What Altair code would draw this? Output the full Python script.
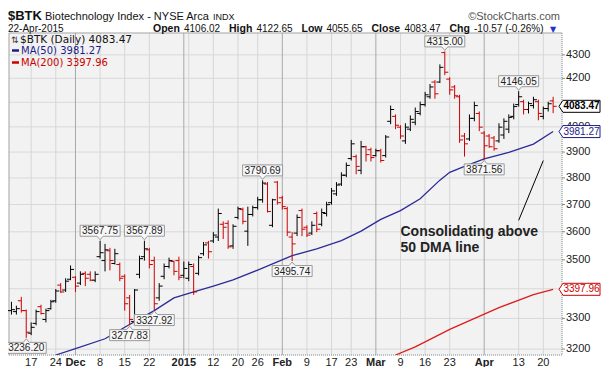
import altair as alt
import pandas as pd

# ---------------- data ----------------
holidays = ["2014-11-27", "2014-12-25", "2015-01-01", "2015-01-19", "2015-02-16", "2015-04-03"]
dates = [d.strftime("%Y-%m-%d") for d in pd.bdate_range("2014-11-11", "2015-04-22")
         if d.strftime("%Y-%m-%d") not in holidays]

opens = [3326.0, 3322.7, 3359.0, 3326.0, 3251.5, 3283.7, 3339.1, 3296.6, 3332.5, 3359.0,
         3412.3, 3395.5, 3432.5, 3439.3, 3419.1, 3452.9, 3449.5, 3429.2, 3511.2, 3497.4,
         3532.1, 3487.1, 3483.7, 3442.7, 3368.9, 3290.1, 3449.5, 3511.2, 3535.5, 3497.4,
         3368.9, 3442.7, 3476.7, 3494.0, 3497.4, 3446.1, 3435.9, 3476.7, 3452.9, 3521.7,
         3560.0, 3567.0, 3581.1, 3627.3, 3630.8, 3549.5, 3652.3, 3681.2, 3602.3, 3663.2,
         3688.5, 3717.7, 3776.8, 3623.6, 3784.3, 3725.0, 3684.8, 3581.1, 3595.3, 3677.6,
         3616.5, 3595.3, 3666.8, 3627.3, 3666.8, 3706.8, 3739.8, 3776.8, 3810.5, 3874.7,
         3882.4, 3829.2, 3920.9, 3909.3, 3886.3, 3905.4, 3886.3, 4022.5, 4042.5, 3998.9,
         3944.1, 3990.9, 4018.6, 4054.4, 4090.5, 4122.8, 4184.2, 4184.2, 4309.8, 4196.6,
         4163.7, 4122.8, 3963.5, 3951.9, 4034.4, 4054.4, 3975.3, 3963.5, 3955.8, 3944.1,
         3967.5, 3990.9, 4042.5, 4090.5, 4102.6, 4070.4, 4086.5, 4102.6, 4042.5, 4074.4,
         4106.02]
highs = [3355.7, 3342.4, 3372.2, 3329.3, 3286.9, 3329.3, 3345.7, 3332.5, 3362.3, 3398.9,
         3419.1, 3435.9, 3480.2, 3442.7, 3459.7, 3459.7, 3459.7, 3459.7, 3567.75, 3556.5,
         3542.5, 3539.0, 3490.5, 3449.5, 3378.9, 3398.9, 3514.7, 3567.89, 3542.5, 3511.2,
         3419.1, 3487.1, 3507.7, 3497.4, 3511.2, 3494.0, 3494.0, 3487.1, 3514.7, 3563.5,
         3567.0, 3598.8, 3684.8, 3638.0, 3641.5, 3627.3, 3692.1, 3688.5, 3692.1, 3695.8,
         3728.7, 3790.69, 3784.3, 3721.3, 3788.0, 3732.4, 3692.1, 3598.8, 3663.2, 3684.8,
         3623.6, 3638.0, 3674.0, 3684.8, 3710.4, 3761.9, 3784.3, 3821.7, 3859.5, 3948.0,
         3890.1, 3944.1, 3924.8, 3917.0, 3913.1, 3913.1, 3967.3, 4086.5, 4050.4, 4006.7,
         4014.6, 4046.4, 4078.5, 4102.6, 4143.2, 4176.0, 4192.4, 4259.1, 4315.00, 4204.9,
         4171.9, 4131.0, 3975.3, 4050.4, 4102.6, 4062.4, 3983.1, 3971.4, 3963.5, 4014.6,
         4034.4, 4050.4, 4094.6, 4146.05, 4110.6, 4102.6, 4122.8, 4110.6, 4082.5, 4102.6,
         4122.65]
lows = [3312.9, 3312.9, 3319.5, 3236.20, 3245.1, 3277.2, 3312.9, 3286.9, 3329.3, 3352.4,
        3385.6, 3388.9, 3429.2, 3388.9, 3412.3, 3409.0, 3425.8, 3422.4, 3504.3, 3459.7,
        3463.1, 3483.7, 3425.8, 3326.0, 3277.83, 3280.4, 3435.9, 3497.4, 3469.9, 3327.92,
        3359.0, 3432.5, 3469.9, 3446.1, 3429.2, 3435.9, 3425.8, 3378.9, 3446.1, 3514.7,
        3504.3, 3560.0, 3567.0, 3574.0, 3539.0, 3539.0, 3645.1, 3627.3, 3549.5, 3655.9,
        3681.2, 3706.8, 3670.4, 3616.5, 3699.5, 3681.2, 3584.5, 3495.74, 3584.5, 3584.5,
        3581.1, 3588.2, 3598.8, 3620.0, 3655.9, 3699.5, 3732.4, 3769.4, 3803.0, 3867.1,
        3814.2, 3814.2, 3863.3, 3863.3, 3882.4, 3859.5, 3878.6, 4010.7, 3991.0, 3951.9,
        3932.5, 3983.1, 4006.7, 4046.4, 4082.5, 4114.7, 4114.7, 4180.1, 4213.3, 4131.0,
        4114.7, 3936.4, 3882.4, 3944.1, 4022.5, 3983.1, 3871.56, 3917.0, 3905.4, 3936.4,
        3951.9, 3975.3, 4030.5, 4082.5, 4050.4, 4054.4, 4074.4, 4026.5, 4030.5, 4062.4,
        4055.65]
closes = [3329.3, 3332.5, 3326.0, 3254.7, 3270.7, 3322.7, 3316.2, 3326.0, 3355.7, 3392.2,
          3388.9, 3425.8, 3466.5, 3408.9, 3449.5, 3435.9, 3429.2, 3449.5, 3525.1, 3535.5,
          3497.4, 3521.7, 3435.9, 3349.0, 3296.6, 3395.5, 3504.3, 3539.0, 3483.7, 3349.0,
          3409.0, 3476.7, 3497.4, 3459.7, 3439.3, 3469.9, 3483.7, 3388.9, 3507.7, 3553.0,
          3528.6, 3588.2, 3666.8, 3616.5, 3546.0, 3620.0, 3684.8, 3638.0, 3663.2, 3688.5,
          3717.7, 3780.5, 3674.0, 3717.7, 3706.8, 3692.1, 3598.8, 3556.5, 3652.3, 3609.4,
          3588.2, 3623.6, 3609.4, 3670.4, 3699.5, 3750.8, 3773.1, 3810.5, 3848.2, 3932.5,
          3844.4, 3920.9, 3890.1, 3878.6, 3905.4, 3867.1, 3959.6, 4070.4, 4006.7, 3963.5,
          3998.9, 4030.5, 4062.4, 4090.5, 4131.0, 4163.7, 4135.1, 4246.5, 4225.7, 4151.4,
          4127.0, 3948.0, 3932.5, 4034.4, 4086.5, 3998.9, 3924.8, 3920.9, 3913.1, 3998.9,
          4022.5, 4038.4, 4082.5, 4122.8, 4070.4, 4094.6, 4110.6, 4054.4, 4074.4, 4094.04,
          4083.47]

ma50_dates = ["2014-11-24", "2014-12-01", "2014-12-09", "2014-12-15", "2014-12-23", "2014-12-30",
              "2015-01-06", "2015-01-12", "2015-01-16", "2015-01-26", "2015-02-04", "2015-02-11",
              "2015-02-19", "2015-02-25", "2015-03-03", "2015-03-09", "2015-03-13", "2015-03-19",
              "2015-03-23", "2015-03-26", "2015-04-01", "2015-04-09", "2015-04-16", "2015-04-22"]
ma50_values = [3181.0, 3201.6, 3233.3, 3270.7, 3326.0, 3368.9, 3388.9, 3408.9, 3430.2, 3464.1,
               3514.7, 3539.0, 3568.1, 3602.3, 3645.1, 3677.6, 3721.4, 3791.7, 3821.7, 3844.4,
               3873.5, 3898.9, 3931.3, 3981.27]
ma200_dates = ["2015-03-06", "2015-03-12", "2015-03-23", "2015-04-07", "2015-04-16", "2015-04-22"]
ma200_values = [3181.0, 3207.0, 3264.0, 3336.0, 3380.0, 3397.96]

tick_dates = ["2014-11-17", "2014-11-24", "2014-12-01", "2014-12-08", "2014-12-15", "2014-12-22",
              "2015-01-02", "2015-01-12", "2015-01-20", "2015-01-26", "2015-02-02", "2015-02-09",
              "2015-02-17", "2015-02-23", "2015-03-02", "2015-03-09", "2015-03-16", "2015-03-23",
              "2015-04-01", "2015-04-13", "2015-04-20"]
tick_labels = ["17", "24", "Dec", "8", "15", "22", "2015", "12", "20", "26", "Feb", "9", "17",
               "23", "Mar", "9", "16", "23", "Apr", "13", "20"]
month_starts = ["2014-12-01", "2015-01-02", "2015-02-02", "2015-03-02", "2015-04-01"]
extra_grid = ["2015-01-05"]
price_ticks = [3200, 3300, 3400, 3500, 3600, 3700, 3800, 3900, 4000, 4100, 4200, 4300]
# 3400 and 4100 are hidden behind the last-value markers in the reference
price_labels = [3200, 3300, 3500, 3600, 3700, 3800, 3900, 4000, 4200, 4300]

peak_dates = ["2014-12-08", "2014-12-19", "2015-01-27", "2015-03-20", "2015-04-13"]
trough_dates = ["2014-11-14", "2014-12-16", "2014-12-23", "2015-02-04", "2015-04-01"]

note_lines = ["Consolidating above", "50 DMA line"]
note_dates = ["2015-03-09", "2015-03-09"]
note_values = [3598.8, 3540.7]
arrow_from = ("2015-04-13", 3641.5)
arrow_to = ("2015-04-20", 3867.0)

last_markers = [("4083.47", 4083.47, "#000000", "bold"),
                ("3981.27", 3981.27, "#1c1c8a", "normal"),
                ("3397.96", 3397.96, "#cc0000", "normal")]

# ---------------- tables ----------------
pos = {d: i for i, d in enumerate(dates)}
df = pd.DataFrame({"date": dates, "open": opens, "high": highs, "low": lows, "close": closes})
df["r"] = range(len(df))
prev = df["close"].shift(1)
df["dir"] = ["up" if (pd.isna(p) or c >= p) else "down" for c, p in zip(df["close"], prev)]

ma50 = pd.DataFrame({"r": [pos[d] for d in ma50_dates], "v": ma50_values})
ma200 = pd.DataFrame({"r": [pos[d] for d in ma200_dates], "v": ma200_values})
ticks = pd.DataFrame({"r": [pos[d] for d in tick_dates], "label": tick_labels,
                      "bold": [d in month_starts for d in tick_dates]})
grid = pd.DataFrame({"r": [pos[d] for d in tick_dates + extra_grid],
                     "dark": [d in month_starts for d in tick_dates + extra_grid]})
ptab = pd.DataFrame({"v": price_ticks})
ltab = pd.DataFrame({"v": price_labels, "t": [str(p) for p in price_labels]})
peaks = df[df["date"].isin(peak_dates)].copy()
peaks["t"] = peaks["high"].map(lambda v: f"{v:.2f}")
troughs = df[df["date"].isin(trough_dates)].copy()
troughs["t"] = troughs["low"].map(lambda v: f"{v:.2f}")
notes = pd.DataFrame({"r": [pos[d] for d in note_dates], "v": note_values, "t": note_lines})
arrow = pd.DataFrame({"r": [pos[arrow_from[0]]], "v": [arrow_from[1]],
                      "r2": [pos[arrow_to[0]]], "v2": [arrow_to[1]]})

# ---------------- chart ----------------
W, H = 553, 322
xs = alt.Scale(domain=[-0.5, 111.8], nice=False, zero=False)
ys = alt.Scale(type="log", domain=[3181, 4395.5], nice=False, zero=False)
X = alt.X("r:Q", scale=xs, axis=None)
dir_color = alt.Color("dir:N", scale=alt.Scale(domain=["up", "down"], range=["#000000", "#cc0000"]),
                      legend=None)
one = pd.DataFrame({"k": [0]})


def Y(field):
    return alt.Y(f"{field}:Q", scale=ys, axis=None)


def border(col, dash_, **enc):
    kw = dict(color=col, strokeWidth=1)
    if dash_:
        kw["strokeDash"] = dash_
    return alt.Chart(one).mark_rule(**kw).encode(**enc)


layers = []

# grid
layers.append(alt.Chart(ptab).mark_rule(color="#d9d9d9", strokeWidth=1).encode(y=Y("v")))
layers.append(alt.Chart(grid[~grid["dark"]]).mark_rule(color="#d6d6d6", strokeWidth=1).encode(x=X))
layers.append(alt.Chart(grid[grid["dark"]]).mark_rule(color="#a8a8a8", strokeWidth=1).encode(x=X))

# frame: solid left/top, dotted right/bottom
layers += [
    border("#a0a0a0", None, x=alt.value(0), y=alt.value(0), y2=alt.value(H)),
    border("#a0a0a0", None, x=alt.value(0), x2=alt.value(W), y=alt.value(0)),
    border("#7f8f8f", [1, 1], x=alt.value(W), y=alt.value(0), y2=alt.value(H)),
    border("#7f8f8f", [1, 1], x=alt.value(0), x2=alt.value(W), y=alt.value(H)),
]

# right price axis (ticks + labels)
layers.append(alt.Chart(ptab).mark_rule(color="#888888", strokeWidth=1).encode(
    x=alt.value(W), x2=alt.value(W + 3), y=Y("v")))
layers.append(alt.Chart(ltab).mark_text(font="Liberation Sans", fontSize=11, color="#222222",
                                        align="left", baseline="middle").encode(
    x=alt.value(W + 4), y=Y("v"), text="t:N"))

# moving averages
layers.append(alt.Chart(ma200).mark_line(color="#dd1c1c", strokeWidth=1.3, clip=True).encode(
    x=X, y=Y("v")))
layers.append(alt.Chart(ma50).mark_line(color="#2b2b98", strokeWidth=1.3, clip=True).encode(
    x=X, y=Y("v")))

# OHLC bars
layers.append(alt.Chart(df).mark_rule(strokeWidth=1).encode(
    x=X, y=Y("low"), y2="high:Q", color=dir_color))
layers.append(alt.Chart(df).mark_tick(orient="horizontal", size=3.5, thickness=1, xOffset=-1.75,
                                      opacity=1).encode(x=X, y=Y("open"), color=dir_color))
layers.append(alt.Chart(df).mark_tick(orient="horizontal", size=3.5, thickness=1, xOffset=1.75,
                                      opacity=1).encode(x=X, y=Y("close"), color=dir_color))

# peak / trough call-outs
path_up = "M-1,-0.275H1V0.275H0.15L0,0.45L-0.15,0.275H-1Z"
path_dn = "M-1,0.275H1V-0.275H0.15L0,-0.45L-0.15,-0.275H-1Z"
for tab, field, path, off in [(peaks, "high", path_up, -10), (troughs, "low", path_dn, 10)]:
    layers.append(alt.Chart(tab).mark_point(shape=path, size=1600, filled=True, fill="#f7f7f7",
                                            stroke="#9a9a9a", strokeWidth=1, opacity=1,
                                            yOffset=off).encode(x=X, y=Y(field)))
    layers.append(alt.Chart(tab).mark_text(font="Liberation Sans", fontSize=10, color="#222222",
                                           baseline="middle", align="center",
                                           yOffset=off + 0.5).encode(
        x=X, y=Y(field), text="t:N"))

# annotation
layers.append(alt.Chart(notes).mark_text(font="Liberation Sans", fontSize=14, fontWeight="bold",
                                         color="#222222", align="left", baseline="middle").encode(
    x=X, y=Y("v"), text="t:N"))
layers.append(alt.Chart(arrow).mark_rule(color="#000000", strokeWidth=1).encode(
    x=X, y=Y("v"), x2="r2:Q", y2="v2:Q"))

# x labels
for bold in [False, True]:
    layers.append(alt.Chart(ticks[ticks["bold"] == bold]).mark_text(
        font="Liberation Sans", fontSize=11, fontWeight="bold" if bold else "normal",
        color="#222222", align="center", baseline="alphabetic").encode(
        x=X, y=alt.value(H + 10.5), text="label:N"))

# last-value markers on the right
path_px = "M-0.805,-0.293H1V0.293H-0.805L-1,0Z"
for label, val, col, wt in last_markers:
    t = pd.DataFrame({"v": [val], "t": [label]})
    layers.append(alt.Chart(t).mark_point(shape=path_px, size=1681, filled=True, fill="#ffffff",
                                          stroke=col, strokeWidth=1, opacity=1).encode(
        x=alt.value(570.5), y=Y("v")))
    layers.append(alt.Chart(t).mark_text(font="Liberation Sans", fontSize=10, fontWeight=wt,
                                         color=col, align="center", baseline="middle").encode(
        x=alt.value(572.5), y=Y("v"), text="t:N"))


def txt(text, x, y, size=11, weight="normal", color="#222222", font="Liberation Sans",
        align="left", baseline="alphabetic"):
    return alt.Chart(one).mark_text(fontSize=size, fontWeight=weight, color=color, font=font,
                                    align=align, baseline=baseline).encode(
        x=alt.value(x), y=alt.value(y), text=alt.value(text))


def dash(y, col):
    return alt.Chart(one).mark_rule(color=col, strokeWidth=2.5).encode(
        x=alt.value(3), x2=alt.value(10), y=alt.value(y))


# header
layers += [
    txt("$BTK", -1, -13, size=13, weight="bold", color="#111111"),
    txt("Biotechnology Index - NYSE Arca", 36, -13, size=11, color="#111111"),
    txt("INDX", 204, -13, size=9, color="#111111"),
    txt("\u00a9StockCharts.com", 551, -13, size=11, color="#555555", align="right"),
    txt("22-Apr-2015", -1, -1, size=10, color="#111111"),
    txt("Open", 144, -1, size=10.5, weight="bold", color="#111111"),
    txt("4106.02", 175, -1, size=10, color="#111111"),
    txt("High", 220, -1, size=10.5, weight="bold", color="#111111"),
    txt("4122.65", 247.5, -1, size=10, color="#111111"),
    txt("Low", 292.5, -1, size=10.5, weight="bold", color="#111111"),
    txt("4055.65", 317.5, -1, size=10, color="#111111"),
    txt("Close", 362.5, -1, size=10.5, weight="bold", color="#111111"),
    txt("4083.47", 395.5, -1, size=10, color="#111111"),
    txt("Chg", 440.5, -1, size=10.5, weight="bold", color="#111111"),
    txt("-10.57 (-0.26%)", 465, -1, size=10, color="#111111"),
    txt("\u25bc", 541, -1.5, size=8, color="#2233cc", font="DejaVu Sans"),
]

# in-plot legend
layers += [
    txt("\u21c5", 2, 6.5, size=9, color="#333333", font="DejaVu Sans", baseline="middle"),
    txt("$BTK (Daily) 4083.47", 11, 6.5, size=10.5, color="#111111", font="DejaVu Sans",
        baseline="middle"),
    dash(17.5, "#1c1c8a"),
    txt("MA(50) 3981.27", 12, 17.5, size=10, color="#1c1c8a", font="DejaVu Sans",
        baseline="middle"),
    dash(29.5, "#cc0000"),
    txt("MA(200) 3397.96", 12, 29.5, size=10, color="#cc0000", font="DejaVu Sans",
        baseline="middle"),
]

chart = alt.layer(*layers).properties(
    width=W, height=H,
    autosize=alt.AutoSizeParams(type="none"),
    padding={"left": 1, "top": 25, "right": 39, "bottom": 12},
    background="#ffffff",
).configure_view(fill="#f2f2f2", strokeOpacity=0)

chart.save("out.html", embed_options={"renderer": "svg", "actions": False})
